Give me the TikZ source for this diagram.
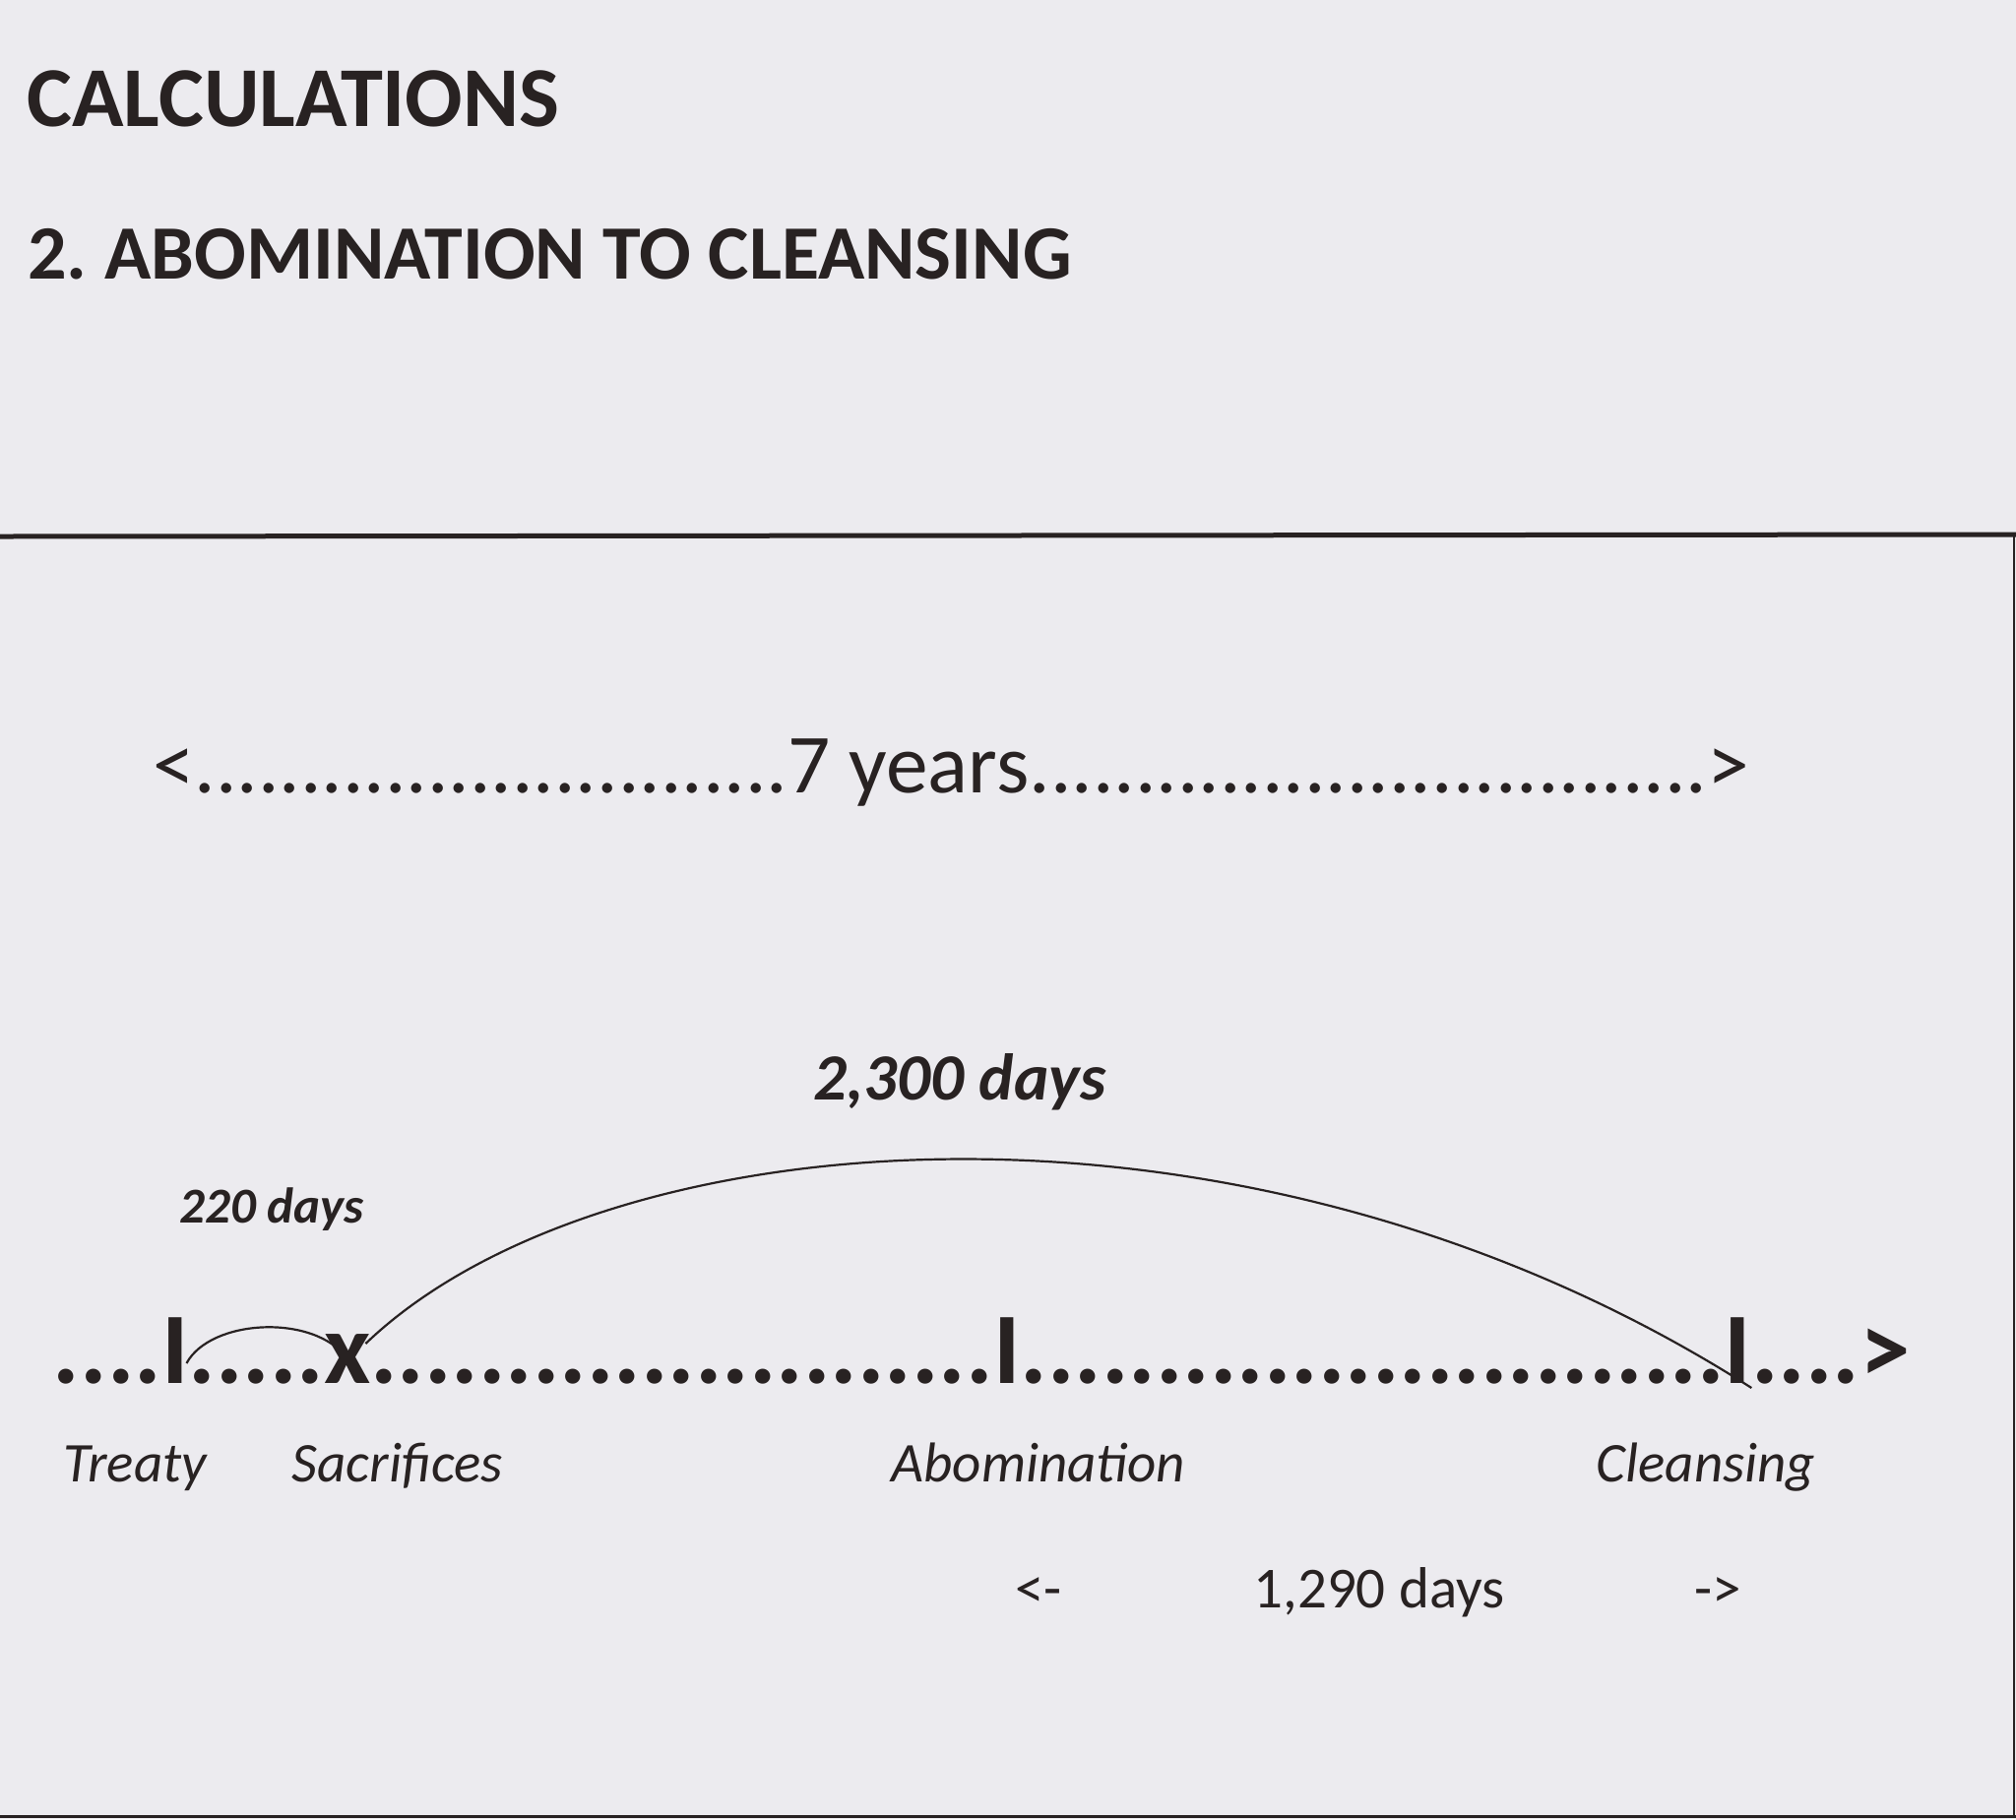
\documentclass[tikz,border=0pt]{standalone}
\usepackage{fontspec}
\setmainfont{Carlito}
\usetikzlibrary{positioning,calc}
\definecolor{ink}{RGB}{40,34,34}
\definecolor{paper}{RGB}{236,235,239}
\frenchspacing
\tikzset{
    head/.style={anchor=base west, inner sep=0pt, font=\bfseries\fontsize{43.3}{50}\selectfont},
    subhead/.style={anchor=base west, inner sep=0pt, font=\bfseries\fontsize{39}{46}\selectfont},
    span/.style={anchor=base, inner sep=0pt, font=\fontsize{42.7}{50}\selectfont},
    tl/.style={inner sep=0pt, outer sep=0pt, font=\bfseries\fontsize{51.5}{60}\selectfont},
    event/.style={anchor=base, inner sep=0pt, font=\itshape\fontsize{28.5}{34}\selectfont},
    period/.style={anchor=base, inner sep=0pt, font=\fontsize{29.5}{35}\selectfont},
    arcline/.style={draw=ink, line width=1.1pt}
}
\begin{document}
\begin{tikzpicture}[x=0.5pt, y=-0.5pt, every node/.style={text=ink}]
    \useasboundingbox (0,0) rectangle (2048,1848);
    \fill[paper] (0,0) rectangle (2048,1848);
    \draw[ink, line width=2.5pt] (0,545) -- (2048,543);
    \draw[ink, line width=1pt] (2046,543) -- (2046,1845);
    \draw[ink, line width=1.5pt] (0,1845) -- (2048,1845);

    \node[head] (h1) at (27,128) {CALCULATIONS};
    \node[subhead] (h2) at (28,283) {2. ABOMINATION TO CLEANSING};

    \node[span] (sy) at (967,805) {<............................7 years................................>};

    \node[tl, anchor=base west] (d0) at (54,1405) {....};
    \node[tl, base right=0pt of d0] (tr) {I};
    \node[tl, base right=0pt of tr] (d1) {.....};
    \node[tl, base right=0pt of d1] (sa) {x};
    \node[tl, base right=0pt of sa] (d2) {.......................};
    \node[tl, base right=0pt of d2] (ab) {I};
    \node[tl, base right=0pt of ab] (d3) {..........................};
    \node[tl, base right=0pt of d3] (cl) {I};
    \node[tl, base right=0pt of cl] (d4) {....};
    \node[tl, base right=0pt of d4] (hd) {>};

    \node[anchor=base, inner sep=0pt, font=\bfseries\itshape\fontsize{33.5}{40}\selectfont] (big) at (975,1117) {2,300 days};
    \node[anchor=base, inner sep=0pt, font=\bfseries\itshape\fontsize{25.5}{30}\selectfont] (small) at (276,1242) {220 days};

    \draw[arcline] ($(tr.base east)+(-2,-20)$) .. controls +(24,-45) and +(-34,-46) .. (sa.center);
    \draw[arcline] ($(sa.north east)+(-5,10)$) .. controls +(240,-230) and +(-516,-330) .. ($(cl.base east)+(0,5)$);

    \node[event] (et) at (137,1505) {Treaty};
    \node[event] (es) at (404,1505) {Sacrifices};
    \node[event] (ea) at (1055,1505) {Abomination};
    \node[event] (ec) at (1733,1505) {Cleansing};

    \node[period] (pl) at (1055,1633) {<-};
    \node[period] (pd) at (1401,1633) {1,290 days};
    \node[period] (pr) at (1745,1633) {->};
\end{tikzpicture}
\end{document}
